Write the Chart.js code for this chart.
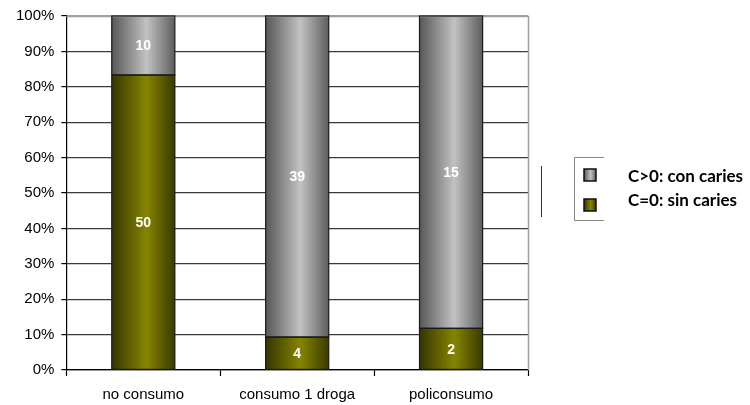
<!DOCTYPE html>
<html>
<head>
<meta charset="utf-8">
<script src="https://cdn.jsdelivr.net/npm/chart.js@4.4.1/dist/chart.umd.min.js"></script>
<style>
  html, body { margin: 0; padding: 0; background: #fff; }
  #wrap { width: 750px; height: 405px; }
</style>
</head>
<body>
<div id="wrap"><canvas id="chart" width="750" height="405"></canvas></div>
<script>
const categories = ['no consumo', 'consumo 1 droga', 'policonsumo']
const sinCaries = [50, 4, 2]     // C=0
const conCaries = [10, 39, 15]   // C>0
const yTicks = [0, 10, 20, 30, 40, 50, 60, 70, 80, 90, 100]

const totals = categories.map((_, i) => sinCaries[i] + conCaries[i])
const pct = arr => arr.map((v, i) => v / totals[i] * 100)

const BAR_PCT = 0.41
const FONT = '"Liberation Sans", Arial, sans-serif'

// horizontal "cylinder" shading across each bar
function barGradient(ctx, stops) {
  const chart = ctx.chart
  const x = chart.scales.x
  if (!x || !chart.chartArea) return stops[1]
  const step = x.width / categories.length
  const w = step * BAR_PCT
  const cx = x.getPixelForValue(ctx.dataIndex)
  const g = chart.ctx.createLinearGradient(cx - w / 2, 0, cx + w / 2, 0)
  g.addColorStop(0, stops[0])
  g.addColorStop(0.55, stops[1])
  g.addColorStop(1, stops[2])
  return g
}

const GRAY = ['#575757', '#c2c2c2', '#5e5e5e']
const OLIVE = ['#353500', '#858500', '#3a3a00']

const extras = {
  id: 'extras',
  afterDatasetsDraw(chart) {
    const c = chart.ctx
    const area = chart.chartArea
    // top and right border of the plot
    c.save()
    c.strokeStyle = '#a0a0a0'
    c.lineWidth = 1.5
    c.beginPath()
    c.moveTo(area.left, area.top + 0.5)
    c.lineTo(area.right + 0.5, area.top + 0.5)
    c.lineTo(area.right + 0.5, area.bottom)
    c.stroke()

    // dark outline round each segment
    c.strokeStyle = '#1a1a1a'
    c.lineWidth = 1.2
    chart.data.datasets.forEach((ds, di) => {
      chart.getDatasetMeta(di).data.forEach(bar => {
        const l = bar.x - bar.width / 2
        c.strokeRect(l, Math.min(bar.y, bar.base), bar.width, Math.abs(bar.base - bar.y))
      })
    })

    // counts inside each segment
    c.fillStyle = '#fff'
    c.font = 'bold 14px ' + FONT
    c.textAlign = 'center'
    c.textBaseline = 'middle'
    chart.data.datasets.forEach((ds, di) => {
      chart.getDatasetMeta(di).data.forEach((bar, i) => {
        const mid = (bar.y + bar.base) / 2
        c.fillText(String(ds.counts[i]), bar.x, mid + 1)
      })
    })
    c.restore()
  },
  afterDraw(chart) {
    const c = chart.ctx
    c.save()
    // separator line and legend frame
    c.strokeStyle = '#333'
    c.lineWidth = 1
    c.beginPath()
    c.moveTo(541.5, 166)
    c.lineTo(541.5, 217)
    c.stroke()
    c.strokeStyle = '#888'
    c.beginPath()
    c.moveTo(604, 157.5)
    c.lineTo(574.5, 157.5)
    c.lineTo(574.5, 220.5)
    c.lineTo(604, 220.5)
    c.stroke()

    const items = chart.data.datasets.slice().reverse()
    const rows = [175, 205]
    items.forEach((ds, k) => {
      const y = rows[k]
      const g = c.createLinearGradient(584, 0, 596, 0)
      g.addColorStop(0, ds.stops[0])
      g.addColorStop(0.55, ds.stops[1])
      g.addColorStop(1, ds.stops[2])
      c.fillStyle = g
      c.fillRect(584, y - 6, 12, 12)
      c.strokeStyle = '#111'
      c.lineWidth = 1.5
      c.strokeRect(584, y - 6, 12, 12)
      c.fillStyle = '#000'
      c.font = 'bold 17px Lato, "Open Sans", sans-serif'
      c.textAlign = 'left'
      c.textBaseline = 'middle'
      c.fillText(ds.label, 628, k === 0 ? 177 : 201)
    })
    c.restore()
  }
}

new Chart(document.getElementById('chart'), {
  type: 'bar',
  data: {
    labels: categories,
    datasets: [
      {
        label: 'C=0: sin caries',
        data: pct(sinCaries),
        counts: sinCaries,
        stops: OLIVE,
        backgroundColor: c => barGradient(c, OLIVE),
        borderWidth: 0,
        categoryPercentage: 1,
        barPercentage: BAR_PCT
      },
      {
        label: 'C>0: con caries',
        data: pct(conCaries),
        counts: conCaries,
        stops: GRAY,
        backgroundColor: c => barGradient(c, GRAY),
        borderWidth: 0,
        categoryPercentage: 1,
        barPercentage: BAR_PCT
      }
    ]
  },
  options: {
    responsive: false,
    animation: false,
    devicePixelRatio: 1,
    layout: { padding: { top: 8, right: 222, bottom: 0, left: 9 } },
    plugins: {
      legend: { display: false },
      tooltip: { enabled: false }
    },
    scales: {
      x: {
        stacked: true,
        grid: {
          drawOnChartArea: false,
          offset: true,
          tickLength: 6,
          tickColor: '#000',
          tickWidth: 1.2
        },
        border: { color: '#000', width: 1.2 },
        ticks: { color: '#000', font: { family: FONT, size: 15 }, padding: 10 },
        afterFit: axis => { axis.height = 35 }
      },
      y: {
        stacked: true,
        min: 0,
        max: 100,
        afterBuildTicks: axis => { axis.ticks = yTicks.map(v => ({ value: v })) },
        grid: {
          color: ctx => ctx.tick && ctx.tick.value === 100 ? '#a0a0a0' : '#3a3a3a',
          lineWidth: 1.2,
          tickLength: 5,
          tickColor: '#000'
        },
        border: { color: '#000', width: 1.2 },
        ticks: {
          color: '#000',
          font: { family: FONT, size: 15 },
          padding: 7,
          callback: v => v + '%'
        }
      }
    }
  },
  plugins: [extras]
})
</script>
</body>
</html>
